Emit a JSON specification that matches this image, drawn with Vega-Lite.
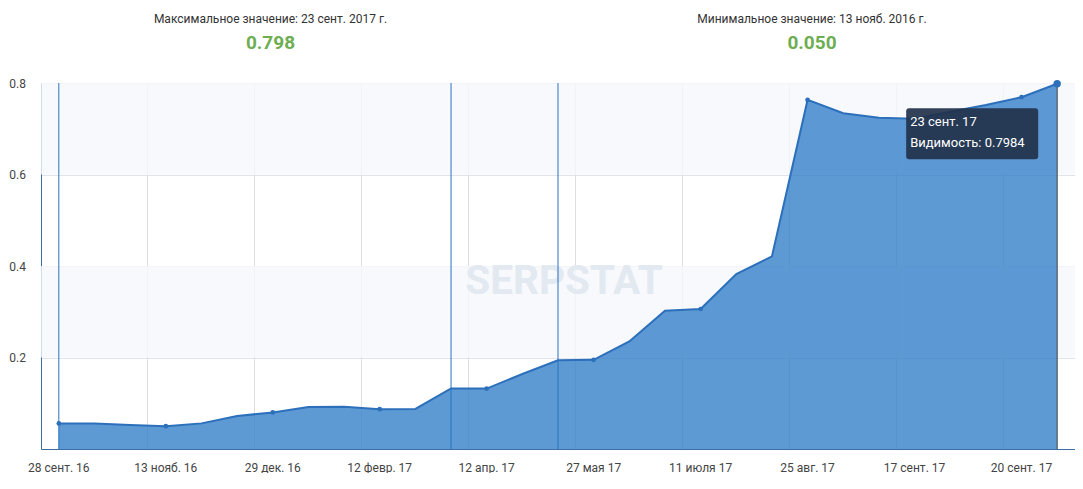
{
  "$schema": "https://vega.github.io/schema/vega-lite/v6.json",
  "padding": 0,
  "spacing": 0,
  "config": {
    "view": {"stroke": null},
    "font": "Roboto",
    "text": {"font": "Roboto"}
  },
  "datasets": {
    "visibility": [
      {"i": 0, "date": "28 сент. 16", "value": 0.056},
      {"i": 1, "date": "13 окт. 16", "value": 0.056},
      {"i": 2, "date": "29 окт. 16", "value": 0.0525},
      {"i": 3, "date": "13 нояб. 16", "value": 0.050},
      {"i": 4, "date": "28 нояб. 16", "value": 0.056},
      {"i": 5, "date": "13 дек. 16", "value": 0.072},
      {"i": 6, "date": "29 дек. 16", "value": 0.080},
      {"i": 7, "date": "13 янв. 17", "value": 0.092},
      {"i": 8, "date": "28 янв. 17", "value": 0.0925},
      {"i": 9, "date": "12 февр. 17", "value": 0.087},
      {"i": 10, "date": "27 февр. 17", "value": 0.0875},
      {"i": 11, "date": "28 мар. 17", "value": 0.1325},
      {"i": 12, "date": "12 апр. 17", "value": 0.132},
      {"i": 13, "date": "27 апр. 17", "value": 0.164},
      {"i": 14, "date": "12 мая 17", "value": 0.194},
      {"i": 15, "date": "27 мая 17", "value": 0.195},
      {"i": 16, "date": "11 июня 17", "value": 0.235},
      {"i": 17, "date": "26 июня 17", "value": 0.302},
      {"i": 18, "date": "11 июля 17", "value": 0.306},
      {"i": 19, "date": "26 июля 17", "value": 0.3825},
      {"i": 20, "date": "10 авг. 17", "value": 0.421},
      {"i": 21, "date": "25 авг. 17", "value": 0.763},
      {"i": 22, "date": "1 сент. 17", "value": 0.734},
      {"i": 23, "date": "9 сент. 17", "value": 0.724},
      {"i": 24, "date": "17 сент. 17", "value": 0.722},
      {"i": 25, "date": "18 сент. 17", "value": 0.737},
      {"i": 26, "date": "19 сент. 17", "value": 0.752},
      {"i": 27, "date": "20 сент. 17", "value": 0.769},
      {"i": 28, "date": "23 сент. 17", "value": 0.7984}
    ],
    "events": [
      {"date": "28 сент. 16"},
      {"date": "28 мар. 17"},
      {"date": "12 мая 17"}
    ],
    "bands": [
      {"from": 0.2, "to": 0.4},
      {"from": 0.6, "to": 0.8}
    ],
    "headers": [
      {"side": "max", "label": "Максимальное значение: 23 сент. 2017 г.", "value": "0.798"},
      {"side": "min", "label": "Минимальное значение: 13 нояб. 2016 г.", "value": "0.050"}
    ],
    "tip": [
      {"date": "23 сент. 17", "value": 0.7984, "line1": "23 сент. 17", "line2": "Видимость: 0.7984"}
    ],
    "watermark": [
      {"name": "SERPSTAT"}
    ]
  },
  "vconcat": [
    {
      "spacing": 0,
      "hconcat": [
        {
          "width": 500,
          "height": 77,
          "data": {"name": "headers"},
          "transform": [{"filter": "datum.side == 'max'"}],
          "layer": [
            {
              "mark": {"type": "text", "dx": -20.5, "dy": -19.5, "fontSize": 12, "color": "#333333"},
              "encoding": {"text": {"field": "label"}}
            },
            {
              "mark": {"type": "text", "dx": -20.5, "dy": 4.5, "fontSize": 19, "fontWeight": "bold", "color": "#6dae52"},
              "encoding": {"text": {"field": "value"}}
            }
          ]
        },
        {
          "width": 500,
          "height": 77,
          "data": {"name": "headers"},
          "transform": [{"filter": "datum.side == 'min'"}],
          "layer": [
            {
              "mark": {"type": "text", "dx": 21, "dy": -19.5, "fontSize": 12, "color": "#333333"},
              "encoding": {"text": {"field": "label"}}
            },
            {
              "mark": {"type": "text", "dx": 21, "dy": 4.5, "fontSize": 19, "fontWeight": "bold", "color": "#6dae52"},
              "encoding": {"text": {"field": "value"}}
            }
          ]
        }
      ]
    },
    {
      "width": 1034,
      "height": 366,
      "encoding": {
        "x": {
          "field": "date",
          "type": "nominal",
          "bandPosition": 0.5,
          "scale": {
            "type": "band",
            "paddingInner": 0,
            "paddingOuter": 0,
            "domain": ["28 сент. 16", "13 окт. 16", "29 окт. 16", "13 нояб. 16", "28 нояб. 16", "13 дек. 16", "29 дек. 16", "13 янв. 17", "28 янв. 17", "12 февр. 17", "27 февр. 17", "28 мар. 17", "12 апр. 17", "27 апр. 17", "12 мая 17", "27 мая 17", "11 июня 17", "26 июня 17", "11 июля 17", "26 июля 17", "10 авг. 17", "25 авг. 17", "1 сент. 17", "9 сент. 17", "17 сент. 17", "18 сент. 17", "19 сент. 17", "20 сент. 17", "23 сент. 17"]
          },
          "axis": {
            "title": null,
            "values": ["28 сент. 16", "13 нояб. 16", "29 дек. 16", "12 февр. 17", "12 апр. 17", "27 мая 17", "11 июля 17", "25 авг. 17", "17 сент. 17", "20 сент. 17"],
            "bandPosition": 0,
            "labelAngle": 0,
            "labelPadding": 13,
            "labelFontSize": 12,
            "labelColor": "#444444",
            "ticks": false,
            "tickSize": 0,
            "grid": true,
            "gridColor": "#dedede",
            "domainColor": "#3b6ea3",
            "labelOverlap": false
          }
        }
      },
      "layer": [
        {
          "data": {"name": "bands"},
          "mark": {"type": "rect", "color": "#f6f8fb", "opacity": 0.8},
          "encoding": {
            "x": null,
            "y": {"field": "from", "type": "quantitative"},
            "y2": {"field": "to"}
          }
        },
        {
          "data": {"name": "watermark"},
          "mark": {"type": "text", "fontSize": 40.5, "fontWeight": "bold", "color": "#e3e9f0", "dx": 6, "dy": 16},
          "encoding": {"x": null, "text": {"field": "name"}}
        },
        {
          "data": {"name": "visibility"},
          "mark": {"type": "area", "color": "#3580c8", "opacity": 0.8},
          "encoding": {
            "y": {
              "field": "value",
              "type": "quantitative",
              "scale": {"domain": [0, 0.8], "nice": false, "zero": true},
              "axis": {
                "title": null,
                "values": [0.2, 0.4, 0.6, 0.8],
                "format": ".1f",
                "grid": true,
                "gridColor": "#dfe4ea",
                "ticks": false,
                "tickSize": 0,
                "labelPadding": 15.5,
                "labelFontSize": 12,
                "labelColor": "#444444",
                "domainColor": "#3b6ea3",
                "minExtent": 41,
                "maxExtent": 41
              }
            }
          }
        },
        {
          "data": {"name": "visibility"},
          "mark": {"type": "line", "color": "#2c6fbb", "strokeWidth": 2},
          "encoding": {"y": {"field": "value", "type": "quantitative"}}
        },
        {
          "data": {"name": "events"},
          "mark": {"type": "rule", "color": "#2a72c0", "strokeWidth": 1},
          "encoding": {}
        },
        {
          "data": {"name": "visibility"},
          "transform": [{"filter": "datum.i % 3 == 0"}],
          "mark": {"type": "point", "filled": true, "color": "#2c6fbb", "opacity": 1, "size": 22},
          "encoding": {"y": {"field": "value", "type": "quantitative"}}
        },
        {
          "data": {"name": "tip"},
          "mark": {"type": "rule", "color": "#444444", "strokeWidth": 1},
          "encoding": {
            "y": {"field": "value", "type": "quantitative"},
            "y2": {"datum": 0}
          }
        },
        {
          "data": {"name": "tip"},
          "mark": {"type": "point", "filled": true, "color": "#2c6fbb", "opacity": 1, "size": 55},
          "encoding": {"y": {"field": "value", "type": "quantitative"}}
        },
        {
          "data": {"name": "tip"},
          "mark": {
            "type": "point",
            "shape": "M-0.955,-0.386 H0.955 Q1,-0.386 1,-0.341 V0.341 Q1,0.386 0.955,0.386 H-0.955 Q-1,0.386 -1,0.341 V-0.341 Q-1,-0.386 -0.955,-0.386 Z",
            "size": 17424,
            "filled": true,
            "color": "#22324a",
            "opacity": 0.92,
            "strokeWidth": 0,
            "xOffset": -85,
            "yOffset": 50
          },
          "encoding": {"y": {"field": "value", "type": "quantitative"}}
        },
        {
          "data": {"name": "tip"},
          "mark": {"type": "text", "align": "left", "dx": -147, "dy": 38.5, "fontSize": 13, "color": "#ffffff"},
          "encoding": {"y": {"field": "value", "type": "quantitative"}, "text": {"field": "line1"}}
        },
        {
          "data": {"name": "tip"},
          "mark": {"type": "text", "align": "left", "dx": -147, "dy": 59.5, "fontSize": 13, "color": "#ffffff"},
          "encoding": {"y": {"field": "value", "type": "quantitative"}, "text": {"field": "line2"}}
        }
      ]
    }
  ]
}
